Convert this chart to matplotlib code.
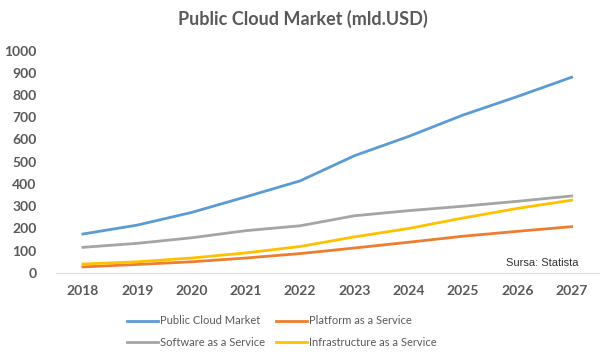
import matplotlib.pyplot as plt
import numpy as np

years = ['2018', '2019', '2020', '2021', '2022', '2023', '2024', '2025', '2026', '2027']
public_cloud = [175, 215, 272, 342, 414, 527, 614, 710, 793, 880]
platform = [27, 38, 50, 67, 87, 112, 138, 165, 187, 208]
software = [115, 133, 158, 190, 212, 257, 280, 300, 322, 346]
infrastructure = [40, 50, 67, 90, 119, 162, 200, 247, 290, 327]

grey = '#595959'
fig = plt.figure(figsize=(6.0, 3.61), dpi=100)
ax = fig.add_axes([0.093, 0.244, 0.905, 0.616])

x = np.arange(len(years))
l1, = ax.plot(x, public_cloud, color='#5B9BD5', lw=2.0, label='Public Cloud Market')
l2, = ax.plot(x, platform, color='#ED7D31', lw=2.0, label='Platform as a Service')
l3, = ax.plot(x, software, color='#A5A5A5', lw=2.0, label='Software as a Service')
l4, = ax.plot(x, infrastructure, color='#FFC000', lw=2.0, label='Infrastructure as a Service')

ax.set_xlim(-0.5, len(years) - 0.5)
ax.set_ylim(0, 1000)
ax.set_yticks(np.arange(0, 1001, 100))
ax.set_xticks(x)
ax.set_xticklabels(years)
for s in ['top', 'right', 'left']:
    ax.spines[s].set_visible(False)
ax.spines['bottom'].set_color('#D9D9D9')
ax.tick_params(length=0, colors=grey, labelsize=10)
ax.tick_params(axis='y', pad=14)
ax.tick_params(axis='x', pad=9)
for lab in ax.get_xticklabels() + ax.get_yticklabels():
    lab.set_fontweight('bold')
    lab.set_family('Lato')

fig.text(0.505, 0.947, 'Public Cloud Market (mld.USD)', ha='center', va='center',
         fontsize=13, fontweight='bold', color=grey, family='Lato')
ax.text(0.963, 0.022, 'Sursa: Statista', transform=ax.transAxes, ha='right', va='bottom',
        fontsize=8, color='#333333', family='Liberation Sans')

leg = fig.legend([l1, l3, l2, l4],
                 ['Public Cloud Market', 'Software as a Service',
                  'Platform as a Service', 'Infrastructure as a Service'],
                 ncol=2, loc='upper left', bbox_to_anchor=(0.195, 0.154), frameon=False,
                 handlelength=2.8, columnspacing=1.0, labelspacing=0.95,
                 handletextpad=0.15, prop={'family': 'Lato', 'size': 8})
for t in leg.get_texts():
    t.set_color(grey)

fig.savefig('out.png', dpi=100)
